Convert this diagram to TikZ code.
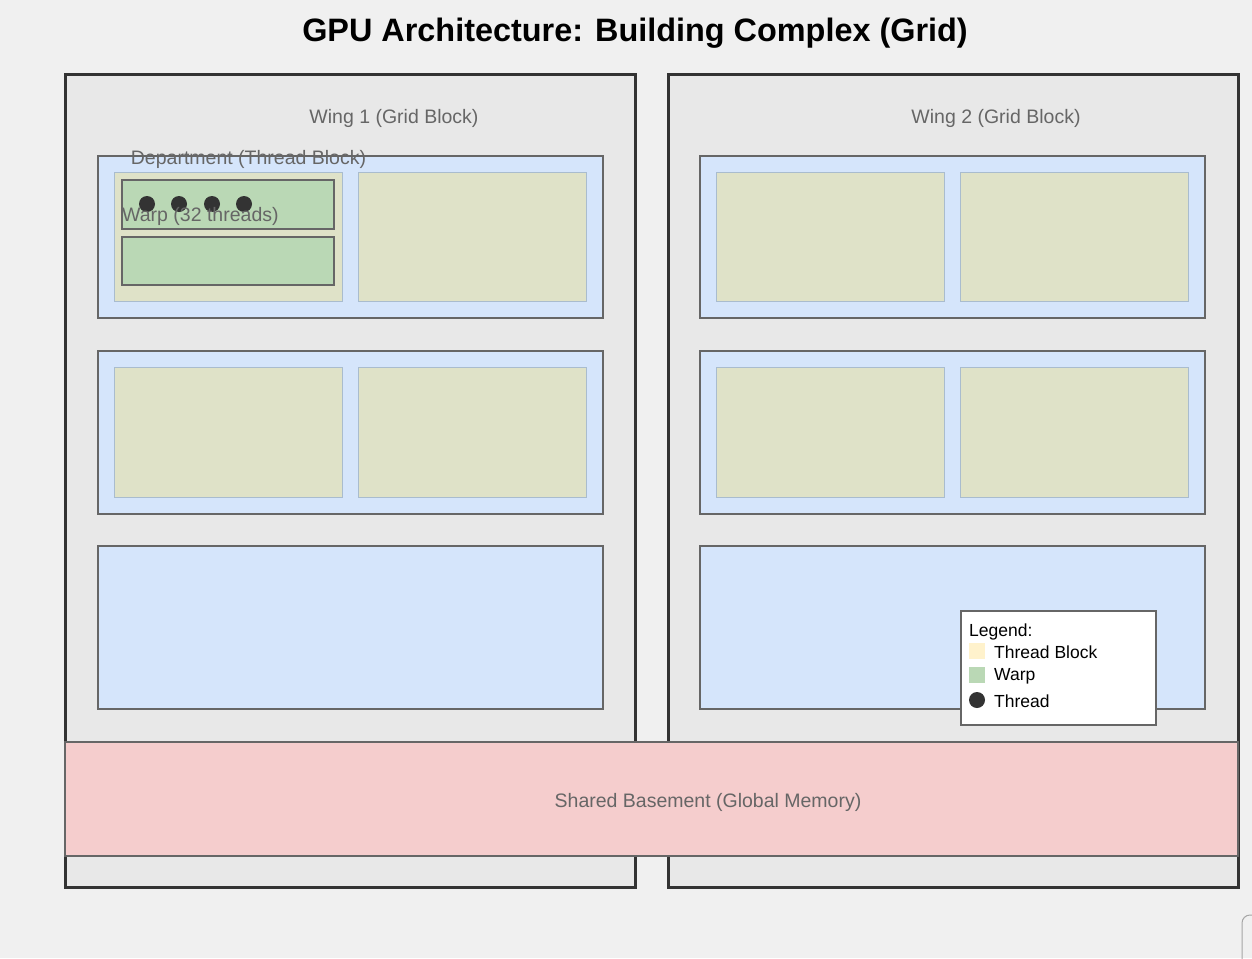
\documentclass[tikz,border=0pt]{standalone}
\usepackage{fontspec}
\setmainfont{Liberation Sans}
\definecolor{pagebg}{HTML}{F0F0F0}
\definecolor{wingfill}{HTML}{E8E8E8}
\definecolor{wingline}{HTML}{333333}
\definecolor{deptfill}{HTML}{D5E5FB}
\definecolor{blockfill}{HTML}{DFE2C8}
\definecolor{blockline}{HTML}{A9BCCE}
\definecolor{warpfill}{HTML}{BAD8B5}
\definecolor{basefill}{HTML}{F5CDCD}
\definecolor{greyline}{HTML}{666666}
\definecolor{swatchyellow}{HTML}{FFF2CC}
\tikzset{
  wing/.style={draw=wingline, fill=wingfill, line width=3pt},
  dept/.style={draw=greyline, fill=deptfill, line width=1.5pt},
  tblock/.style={draw=blockline, fill=blockfill, line width=1pt},
  warp/.style={draw=greyline, fill=warpfill, line width=2pt},
  thread/.style={circle, fill=wingline, inner sep=0pt, minimum size=16pt},
  label/.style={text=greyline, font=\fontsize{19.5}{22}\selectfont, inner sep=0pt},
  legtext/.style={text=black, font=\fontsize{17.5}{20}\selectfont, inner sep=0pt, anchor=west}
}
\begin{document}
\begin{tikzpicture}[x=1pt, y=-1pt]
  \useasboundingbox[fill=pagebg] (0,0) rectangle (1252,958);
  \node[font=\fontsize{32.4}{36}\selectfont\bfseries, inner sep=0pt] (title) at (635,33) {GPU Architecture: Building Complex (Grid)};
  \draw[wing] (65,74) rectangle (635,887);
  \draw[wing] (668,74) rectangle (1238,887);
  \node[label] (wing1) at (394,118) {Wing 1 (Grid Block)};
  \node[label] (wing2) at (996,118) {Wing 2 (Grid Block)};
  \foreach \dx in {0,602} {
    \draw[dept] (98+\dx,156) rectangle (603+\dx,318);
    \draw[dept] (98+\dx,351) rectangle (603+\dx,514);
    \draw[dept] (98+\dx,546) rectangle (603+\dx,709);
    \draw[tblock] (114+\dx,172) rectangle (342+\dx,301);
    \draw[tblock] (358+\dx,172) rectangle (586+\dx,301);
    \draw[tblock] (114+\dx,367) rectangle (342+\dx,497);
    \draw[tblock] (358+\dx,367) rectangle (586+\dx,497);
  }
  \draw[warp] (122,180) rectangle (334,229);
  \draw[warp] (122,237) rectangle (334,285);
  \foreach \x [count=\i] in {147,179,212,244}
    \node[thread] (t\i) at (\x,204) {};
  \node[label] (deptlabel) at (248.5,159) {Department (Thread Block)};
  \node[label, anchor=west] (warplabel) at (122,216) {Warp (32 threads)};
  \begin{scope}
    \draw[draw=greyline, fill=white, line width=1.5pt] (961,611) rectangle (1156,725);
    \node[legtext] (legend) at (969,631.5) {Legend:};
    \fill[swatchyellow] (969,643) rectangle (985,659);
    \fill[warpfill] (969,667) rectangle (985,683);
    \node[thread] (legthread) at (977,700) {};
    \node[legtext] (legblock) at (994,652.5) {Thread Block};
    \node[legtext] (legwarp) at (994,676.5) {Warp};
    \node[legtext] (legthr) at (994,701) {Thread};
  \end{scope}
  \draw[draw=greyline, fill=basefill, line width=1.5pt] (65,742) rectangle (1238,856);
  \node[label] (basement) at (708,802) {Shared Basement (Global Memory)};
  \draw[draw=black!35, line width=1pt, rounded corners=8pt] (1242,980) -- (1242,915) -- (1280,915);
\end{tikzpicture}
\end{document}
